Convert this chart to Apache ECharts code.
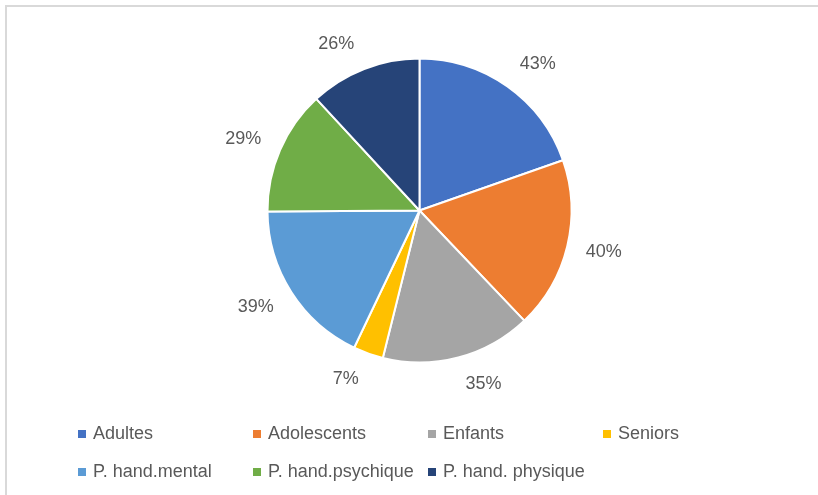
<!DOCTYPE html>
<html>
<head>
<meta charset="utf-8">
<script src="https://cdn.jsdelivr.net/npm/echarts@6/dist/echarts.min.js"></script>
<style>
  html, body { margin: 0; padding: 0; background: #ffffff; }
  #chart { width: 818px; height: 495px; }
</style>
</head>
<body>
<div id="chart"></div>
<script>
var categories = ['Adultes', 'Adolescents', 'Enfants', 'Seniors', 'P. hand.mental', 'P. hand.psychique', 'P. hand. physique'];
var values = [43, 40, 35, 7, 39, 29, 26];
var colors = ['#4472C4', '#ED7D31', '#A5A5A5', '#FFC000', '#5B9BD5', '#70AD47', '#264478'];

var FONT = '"Liberation Sans", Arial, sans-serif';
var TEXT_COLOR = '#595959';

var pieData = categories.map(function (name, i) {
  return { name: name, value: values[i], itemStyle: { color: colors[i] } };
});

// legend layout: two rows, four columns
var legendCols = [78, 253, 428, 603];
var legendRows = [425, 463];
var legends = categories.map(function (name, i) {
  var row = i < 4 ? 0 : 1;
  var col = i < 4 ? i : i - 4;
  return {
    data: [name],
    left: legendCols[col],
    top: legendRows[row],
    padding: 0,
    icon: 'rect',
    itemWidth: 8,
    itemHeight: 8,
    selectedMode: false,
    itemStyle: { borderWidth: 0 },
    textStyle: { fontFamily: FONT, fontSize: 18, color: TEXT_COLOR, padding: [0, 0, 0, 2] }
  };
});

var chart = echarts.init(document.getElementById('chart'), null, { renderer: 'canvas' });
chart.setOption({
  backgroundColor: '#ffffff',
  animation: false,
  graphic: [{
    type: 'rect',
    shape: { x: 6, y: 6, width: 1000, height: 1000 },
    style: { fill: 'none', stroke: '#d9d9d9', lineWidth: 2 },
    silent: true
  }],
  legend: legends,
  series: [{
    type: 'pie',
    center: [419.5, 210.5],
    radius: [0, 152],
    startAngle: 90,
    clockwise: true,
    avoidLabelOverlap: false,
    silent: true,
    itemStyle: { borderColor: '#ffffff', borderWidth: 2 },
    label: {
      show: true,
      position: 'outside',
      formatter: function (p) { return p.value + '%'; },
      fontFamily: FONT,
      fontSize: 18,
      color: TEXT_COLOR,
      distanceToLabelLine: 0
    },
    labelLine: {
      show: true,
      length: 16,
      length2: 0,
      lineStyle: { color: 'rgba(0,0,0,0)', width: 0 }
    },
    labelLayout: function (p) {
      var pts = p.labelLinePoints;
      if (!pts || pts.length < 2) { return {}; }
      var dx = pts[1][0] - pts[0][0];
      var dy = pts[1][1] - pts[0][1];
      var len = Math.sqrt(dx * dx + dy * dy) || 1;
      return {
        x: pts[1][0] + (dx < 0 ? -4 : 3),
        y: pts[1][1] + (dy / len) * 11,
        align: dx < 0 ? 'right' : 'left',
        verticalAlign: 'middle'
      };
    },
    data: pieData
  }]
});
</script>
</body>
</html>
